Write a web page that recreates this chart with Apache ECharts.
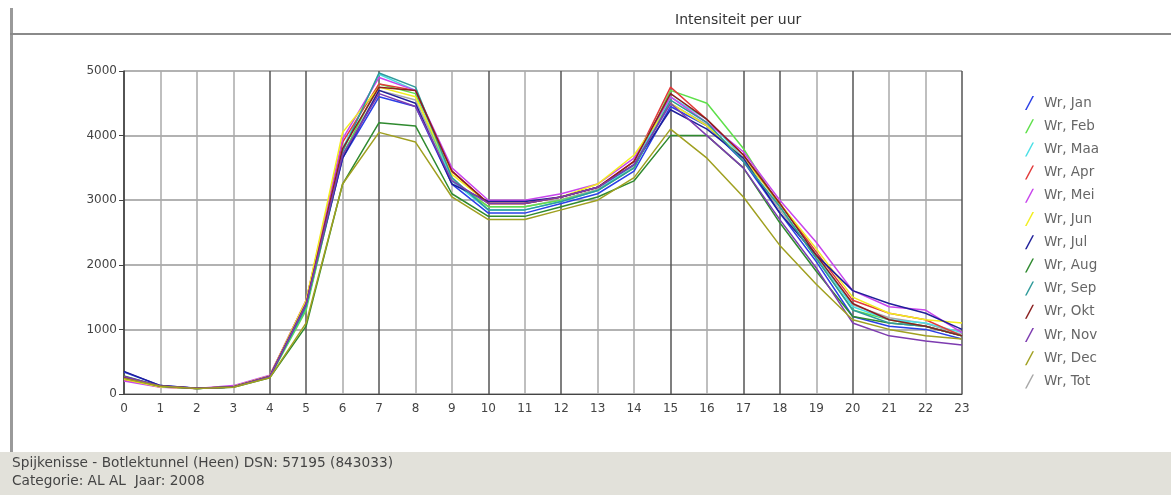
<!DOCTYPE html>
<html><head><meta charset="utf-8">
<script src="https://cdn.jsdelivr.net/npm/echarts@6/dist/echarts.min.js"></script>
<style>html,body{margin:0;padding:0;background:#fff;}#c{width:1171px;height:495px;}</style>
</head><body><div id="c"></div>
<script>
const hours = ['0','1','2','3','4','5','6','7','8','9','10','11','12','13','14','15','16','17','18','19','20','21','22','23'];
const yTicks = [0, 1000, 2000, 3000, 4000, 5000];
const seriesNames = ['Wr, Jan','Wr, Feb','Wr, Maa','Wr, Apr','Wr, Mei','Wr, Jun','Wr, Jul','Wr, Aug','Wr, Sep','Wr, Okt','Wr, Nov','Wr, Dec','Wr, Tot'];
const jan = [340,130,90,110,270,1350,3650,4600,4450,3250,2800,2800,2950,3100,3450,4450,4150,3600,2800,2050,1200,1050,1000,850];
const feb = [250,120,85,110,260,1300,3700,4800,4650,3300,2900,2900,3000,3150,3500,4700,4500,3800,2900,2100,1300,1150,1050,900];
const maa = [230,115,85,110,265,1350,3800,4950,4700,3300,2850,2850,2980,3150,3550,4600,4250,3650,2950,2150,1350,1150,1100,950];
const apr = [220,110,85,115,280,1450,3900,4800,4700,3450,2950,2950,3050,3200,3600,4750,4250,3700,2950,2200,1450,1250,1150,900];
const mei = [200,105,85,130,290,1450,3950,4900,4700,3500,3000,3000,3100,3250,3650,4600,4200,3750,3000,2350,1600,1350,1300,950];
const jun = [230,110,85,115,280,1450,4050,4750,4600,3400,2950,2950,3050,3250,3700,4500,4150,3650,2950,2250,1500,1250,1150,1100];
const jul = [350,130,90,110,270,1400,3650,4700,4500,3250,2980,2980,3050,3200,3550,4400,4100,3650,2800,2150,1600,1400,1250,1000];
const aug = [280,120,85,105,250,1050,3250,4200,4150,3100,2750,2750,2900,3050,3300,4000,4000,3500,2650,1900,1200,1100,1050,900];
const sep = [250,120,85,110,265,1350,3750,4970,4750,3350,2850,2850,2980,3150,3500,4550,4200,3600,2900,2100,1300,1100,1050,900];
const okt = [260,125,90,110,270,1400,3800,4750,4700,3450,2950,2950,3050,3200,3600,4650,4250,3700,2950,2150,1400,1150,1050,900];
const nov = [270,125,90,110,270,1400,3700,4650,4450,3300,2950,2950,3050,3200,3550,4500,4000,3500,2700,1950,1100,900,820,760];
const dec = [240,120,85,105,250,1100,3250,4050,3900,3050,2700,2700,2850,3000,3350,4100,3650,3050,2300,1700,1150,1000,900,850];
const tot = [260,120,87,112,268,1340,3700,4700,4550,3320,2900,2900,3010,3170,3530,4500,4170,3630,2850,2120,1380,1180,1090,920];
const allValues = [jan,feb,maa,apr,mei,jun,jul,aug,sep,okt,nov,dec,tot];
const colors = ['#2a3fe6','#5ee04a','#4adfe6','#e23a3a','#c845ec','#f2ee1e','#1f1f9a','#2f8a2f','#2f9a9a','#8a1f1f','#7d3bb0','#a0a020','#a8a8a8'];

// grid line darkness (image aliasing): dark at some hours
const darkIdx = [0,4,5,7,10,12,15,17,18,20,23];
const vColors = hours.map((h,i)=> darkIdx.includes(i) ? '#555' : '#aaa');

const chart = echarts.init(document.getElementById('c'), null, {renderer:'canvas'});
const font = '"DejaVu Sans", Verdana, sans-serif';
chart.setOption({
  animation:false,
  backgroundColor:'#fff',
  color: colors,
  title:{text:'Intensiteit per uur', left:670, top:8, textStyle:{fontFamily:font,fontSize:14,fontWeight:'normal',color:'#333'}},
  grid:{left:124, right:209, top:71, bottom:101},
  legend:{
    orient:'vertical', left:1020, top:91, itemGap:9.2, itemWidth:9, itemHeight:15,
    icon:'path://M0,14 L1.6,14 L9,0 L7.4,0 Z',
    textStyle:{fontFamily:font,fontSize:13.5,color:'#666', padding:[0,0,0,5]},
    data: seriesNames
  },
  xAxis:{
    type:'category', data:hours, boundaryGap:false,
    axisLine:{lineStyle:{color:'#444',width:1}},
    axisTick:{show:false},
    axisLabel:{fontFamily:font,fontSize:12,color:'#444',margin:9},
    splitLine:{show:true, lineStyle:{color:vColors,width:1.5}}
  },
  yAxis:{
    type:'value', min:yTicks[0], max:yTicks[yTicks.length-1], interval:1000,
    axisLine:{show:true,lineStyle:{color:'#444',width:1.5}},
    axisTick:{show:true,length:5,lineStyle:{color:'#444'}},
    axisLabel:{fontFamily:font,fontSize:12,color:'#444',margin:7, formatter:(v)=>String(v)},
    splitLine:{show:true,lineStyle:{color:'#999',width:1.5}}
  },
  series: seriesNames.map((n,i)=>({
    name:n, type:'line', data:allValues[i], showSymbol:false, symbol:'none',
    lineStyle:{width:1.5, color:colors[i]}, itemStyle:{color:colors[i]}, z: i===12?1:2
  })),
  graphic:[
    {type:'rect', shape:{x:0,y:452,width:1171,height:43}, style:{fill:'#e2e1da'}, z:-1},
    {type:'rect', shape:{x:10,y:8,width:3,height:444}, style:{fill:'#9a9a9a'}},
    {type:'rect', shape:{x:10,y:33,width:1161,height:2}, style:{fill:'#8a8a8a'}},
    {type:'text', left:12, top:456, style:{text:'Spijkenisse - Botlektunnel (Heen) DSN: 57195 (843033)', font:'13.7px '+font, fill:'#444'}},
    {type:'text', left:12, top:474, style:{text:'Categorie: AL AL  Jaar: 2008', font:'13.7px '+font, fill:'#444'}}
  ]
});
</script></body></html>
